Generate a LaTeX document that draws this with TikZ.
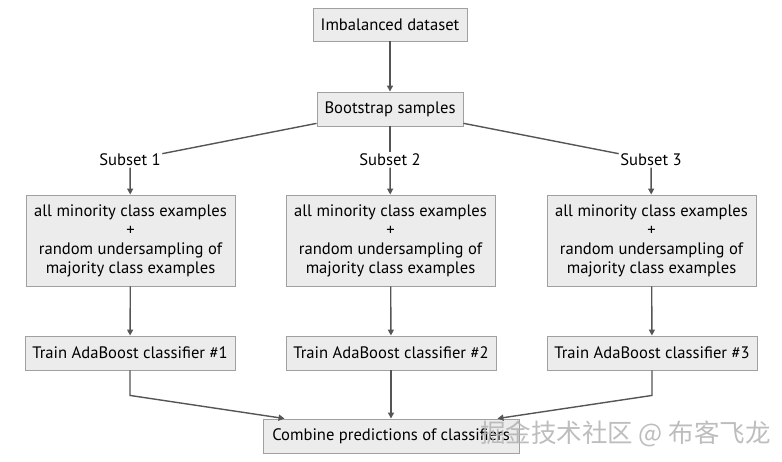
\documentclass[tikz,border=0pt]{standalone}
\usepackage{fontspec}
\setmainfont{PT Sans}
\newfontfamily\cjkfont{Noto Sans CJK SC}
\usetikzlibrary{arrows.meta,calc}
\definecolor{boxfill}{HTML}{ECECEC}
\definecolor{boxline}{HTML}{A0A0A0}
\definecolor{edgecol}{HTML}{555555}
\begin{document}
\begin{tikzpicture}[x=1pt,y=-1pt,
  box/.style={draw=boxline,fill=boxfill,line width=0.9pt,inner sep=0pt,align=center,
    font=\fontsize{16.6}{19}\selectfont},
  lbl/.style={fill=white,inner sep=1.5pt,font=\fontsize{16.6}{19}\selectfont},
  edge/.style={draw=edgecol,line width=1.4pt},
  arr/.style={edge,-{Triangle[length=6pt,width=6pt]}}]
\useasboundingbox (0,0) rectangle (782,462);
\node[box,minimum width=154,minimum height=33] (imb) at (390,24.5) {Imbalanced dataset};
\node[box,minimum width=146,minimum height=34] (boot) at (390,109) {Bootstrap samples};
\node[lbl] (s1) at (130,160) {Subset 1};
\node[lbl] (s2) at (390,160) {Subset 2};
\node[lbl] (s3) at (651,160) {Subset 3};
\node[box,minimum width=209,minimum height=91] (b1) at (130.5,240.5) {all minority class examples\\+\\random undersampling of\\majority class examples};
\node[box,minimum width=209,minimum height=91] (b2) at (390.5,240.5) {all minority class examples\\+\\random undersampling of\\majority class examples};
\node[box,minimum width=209,minimum height=91] (b3) at (651.5,240.5) {all minority class examples\\+\\random undersampling of\\majority class examples};
\node[box,minimum width=210,minimum height=34] (t1) at (130,353) {Train AdaBoost classifier \#1};
\node[box,minimum width=210,minimum height=34] (t2) at (391,353) {Train AdaBoost classifier \#2};
\node[box,minimum width=210,minimum height=34] (t3) at (652,353) {Train AdaBoost classifier \#3};
\node[box,minimum width=256,minimum height=34] (comb) at (391,436) {Combine predictions of classifiers};
\draw[arr] (imb) -- (boot);
\draw[edge] (boot) -- (s1);
\draw[edge] (boot) -- (s2);
\draw[edge] (boot) -- (s3);
\draw[arr] (s1) -- (b1);
\draw[arr] (s2) -- (b2);
\draw[arr] (s3) -- (b3);
\draw[arr] (b1) -- (t1);
\draw[arr] (b2) -- (t2);
\draw[arr] (b3) -- (t3);
\draw[arr] (t1.south) -- ++(0,25) -- ($(comb.north west)+(22,0)$);
\draw[arr] (t2) -- (comb);
\draw[arr] (t3.south) -- ++(0,25) -- ($(comb.north east)+(-22,0)$);
\node[text=gray!60,opacity=0.85,font=\cjkfont\fontsize{25.5}{27}\selectfont,inner sep=0pt,anchor=west] (wm) at (480,434) {掘金技术社区 @ 布客飞龙};
\end{tikzpicture}
\end{document}
